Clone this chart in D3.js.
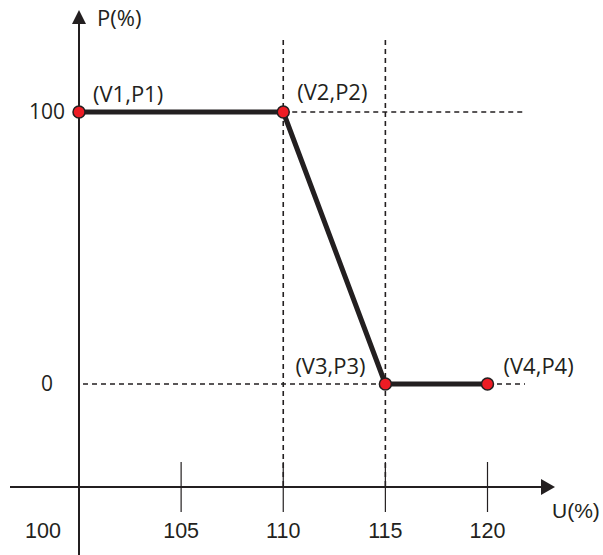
<!DOCTYPE html>
<html>
<head>
<meta charset="utf-8">
<script src="https://cdn.jsdelivr.net/npm/d3@7"></script>
<style>
  body { margin: 0; background: #fff; }
</style>
</head>
<body>
<svg id="chart"></svg>
<script>
// data
var uValues = [100, 110, 115, 120];
var pValues = [100, 100, 0, 0];
var pointLabels = ["(V1,P1)", "(V2,P2)", "(V3,P3)", "(V4,P4)"];
var xTicks = [100, 105, 110, 115, 120];
var yTicks = [0, 100];

var width = 603, height = 555;

var svg = d3.select("#chart")
    .attr("width", width)
    .attr("height", height);

var xScale = d3.scaleLinear()
    .domain([100, 120])
    .range([79, 487.5]);

var yScale = d3.scaleLinear()
    .domain([0, 100])
    .range([384, 112]);

var axisY = 487;
var ink = "#231f20";
var labelFont = "'Open Sans', 'Noto Sans', sans-serif";
var tickFont = "'Liberation Sans', Arial, sans-serif";

// dashed guide lines
svg.append("line")
    .attr("x1", xScale(110)).attr("x2", 525)
    .attr("y1", yScale(100)).attr("y2", yScale(100))
    .attr("stroke", ink).attr("stroke-width", 1.6)
    .attr("stroke-dasharray", "5,4");

svg.append("line")
    .attr("x1", xScale(100) + 4).attr("x2", 525)
    .attr("y1", yScale(0)).attr("y2", yScale(0))
    .attr("stroke", ink).attr("stroke-width", 1.6)
    .attr("stroke-dasharray", "5,4");

[110, 115].forEach(function(v) {
    svg.append("line")
        .attr("x1", xScale(v)).attr("x2", xScale(v))
        .attr("y1", 40).attr("y2", axisY)
        .attr("stroke", ink).attr("stroke-width", 1.6)
        .attr("stroke-dasharray", "5,4");
});

// x axis
svg.append("line")
    .attr("x1", 10).attr("x2", 545)
    .attr("y1", axisY).attr("y2", axisY)
    .attr("stroke", ink).attr("stroke-width", 2);
svg.append("path")
    .attr("d", "M541," + (axisY - 8) + "L555," + axisY + "L541," + (axisY + 8) + "Z")
    .attr("fill", ink);

// y axis
svg.append("line")
    .attr("x1", xScale(100)).attr("x2", xScale(100))
    .attr("y1", 22).attr("y2", height)
    .attr("stroke", ink).attr("stroke-width", 2);
svg.append("path")
    .attr("d", "M" + (xScale(100) - 7) + ",24L" + xScale(100) + ",10L" + (xScale(100) + 7) + ",24Z")
    .attr("fill", ink);

// x ticks
svg.selectAll(".xtick")
    .data(xTicks.filter(d => d != 100))
    .enter()
    .append("line")
    .attr("x1", d => xScale(d)).attr("x2", d => xScale(d))
    .attr("y1", axisY - 25).attr("y2", axisY + 25)
    .attr("stroke", ink).attr("stroke-width", 1.2);

svg.selectAll(".xlabel")
    .data(xTicks)
    .enter()
    .append("text")
    .attr("x", d => d == 100 ? 43 : xScale(d))
    .attr("y", 538)
    .attr("text-anchor", "middle")
    .style("font-family", tickFont)
    .style("font-size", "21.5px")
    .attr("fill", ink)
    .text(d => d);

// y tick labels
svg.selectAll(".ylabel")
    .data(yTicks)
    .enter()
    .append("text")
    .attr("x", d => d == 100 ? 65 : 53)
    .attr("y", d => yScale(d) + 7)
    .attr("text-anchor", "end")
    .style("font-family", labelFont)
    .style("font-size", "21px")
    .attr("fill", ink)
    .text(d => d);

// axis titles
svg.append("text")
    .attr("x", 97).attr("y", 26)
    .style("font-family", labelFont)
    .style("font-size", "22px")
    .attr("fill", ink)
    .text("P(%)");

svg.append("text")
    .attr("x", 552).attr("y", 518)
    .style("font-family", tickFont)
    .style("font-size", "21px")
    .attr("fill", ink)
    .text("U(%)");

// main curve
var points = uValues.map((u, i) => ({u: u, p: pValues[i], label: pointLabels[i]}));

svg.append("path")
    .datum(points)
    .attr("d", d3.line().x(d => xScale(d.u)).y(d => yScale(d.p)))
    .attr("fill", "none")
    .attr("stroke", ink)
    .attr("stroke-width", 5)
    .attr("stroke-linejoin", "round");

svg.selectAll(".pt")
    .data(points)
    .enter()
    .append("circle")
    .attr("cx", d => xScale(d.u))
    .attr("cy", d => yScale(d.p))
    .attr("r", 6)
    .attr("fill", "#ed1c24")
    .attr("stroke", ink)
    .attr("stroke-width", 1.5);

// point labels
var labelOffsets = [[14, -10], [14, -12], [-90, -10], [16, -10]];
svg.selectAll(".ptlabel")
    .data(points)
    .enter()
    .append("text")
    .attr("x", (d, i) => xScale(d.u) + labelOffsets[i][0])
    .attr("y", (d, i) => yScale(d.p) + labelOffsets[i][1])
    .style("font-family", labelFont)
    .style("font-size", "22px")
    .attr("fill", ink)
    .text(d => d.label);
</script>
</body>
</html>
